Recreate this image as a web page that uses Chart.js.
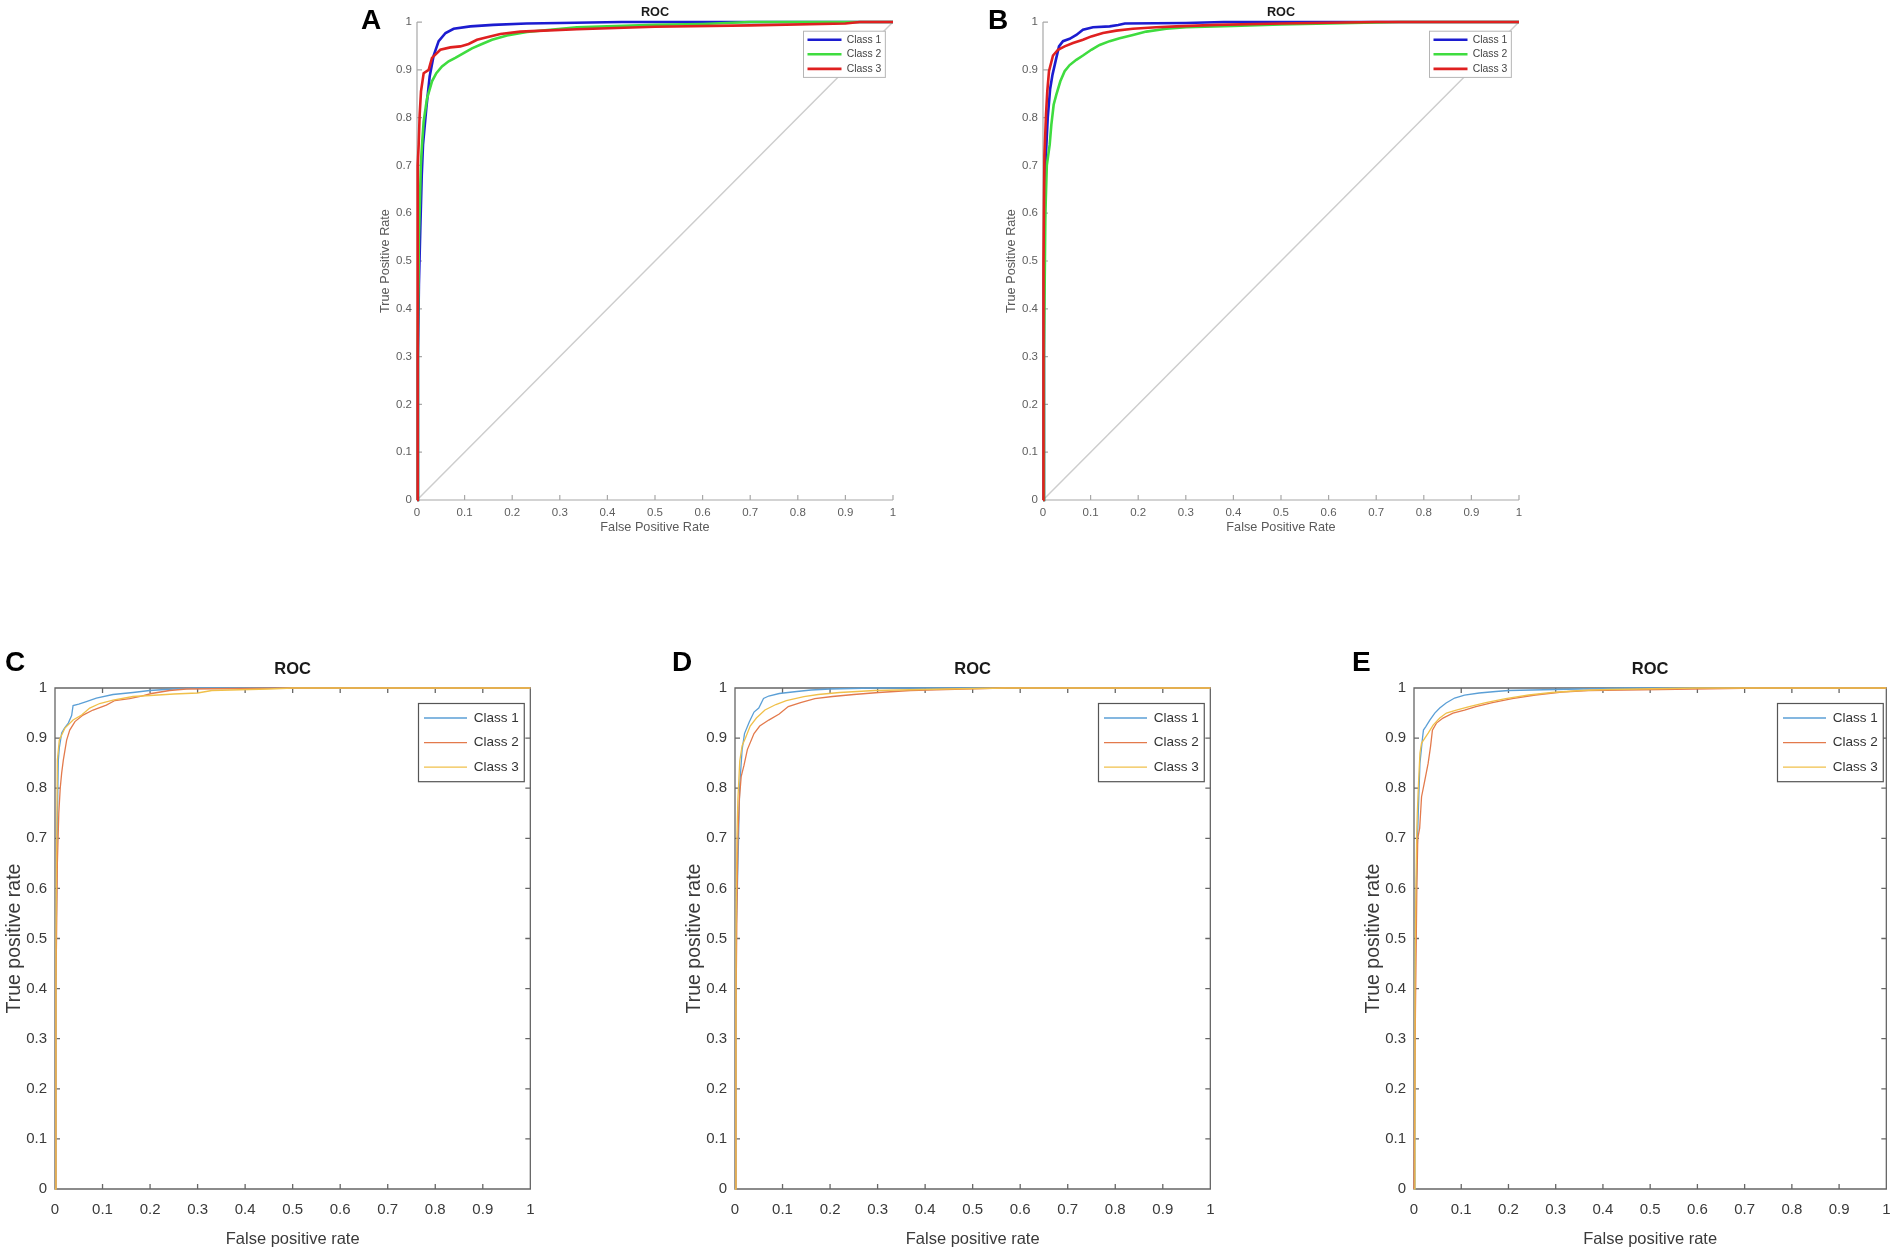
<!DOCTYPE html>
<html>
<head>
<meta charset="utf-8">
<title>ROC</title>
<script src="https://cdn.jsdelivr.net/npm/chart.js@4.4.1/dist/chart.umd.min.js"></script>
<style>
  html, body { margin: 0; padding: 0; background: #fff; }
  body { width: 1902px; height: 1257px; position: relative; overflow: hidden; }
  canvas { position: absolute; }
  .tag { position: absolute; font: bold 28px/28px "Liberation Sans", Arial, sans-serif; color: #000; z-index: 2; }
</style>
</head>
<body>
<div class="tag" style="left:361px;top:6px">A</div>
<div class="tag" style="left:988px;top:6px">B</div>
<div class="tag" style="left:5px;top:648px">C</div>
<div class="tag" style="left:672px;top:648px">D</div>
<div class="tag" style="left:1352px;top:648px">E</div>

<canvas id="rocA" width="545" height="545" style="left:360px;top:0px"></canvas>
<canvas id="rocB" width="545" height="545" style="left:986px;top:0px"></canvas>
<canvas id="rocC" width="546" height="607" style="left:0px;top:650px"></canvas>
<canvas id="rocD" width="546" height="607" style="left:680px;top:650px"></canvas>
<canvas id="rocE" width="543" height="607" style="left:1359px;top:650px"></canvas>

<script>
const FONT = '"Liberation Sans", Arial, Helvetica, sans-serif';

// tick labels shared by both axes of every panel
const TICK_LABELS = ["0", "0.1", "0.2", "0.3", "0.4", "0.5", "0.6", "0.7", "0.8", "0.9", "1"];
const CLASS_LABELS = ["Class 1", "Class 2", "Class 3"];
const CHANCE = [[0, 0], [1, 1]];

// ROC points as [false positive rate, true positive rate]
const A_CLASS1 = [[0,0],[0.002,0.3],[0.004,0.45],[0.007,0.57],[0.01,0.68],[0.0126,0.743],[0.0196,0.82],[0.0266,0.886],[0.035,0.93],[0.0455,0.96],[0.06,0.977],[0.077,0.986],[0.112,0.991],[0.16,0.994],[0.23,0.997],[0.3,0.998],[0.43,1],[1,1]];
const A_CLASS2 = [[0,0],[0.002,0.35],[0.004,0.55],[0.006,0.62],[0.008,0.7],[0.0105,0.743],[0.014,0.792],[0.021,0.84],[0.0315,0.876],[0.0406,0.893],[0.0525,0.907],[0.0665,0.918],[0.0805,0.925],[0.098,0.935],[0.1155,0.945],[0.1365,0.954],[0.1576,0.963],[0.189,0.972],[0.231,0.979],[0.28,0.984],[0.336,0.989],[0.4,0.991],[0.5,0.994],[0.6,0.996],[0.7,1],[1,1]];
const A_CLASS3 = [[0,0],[0.001,0.5],[0.002,0.7],[0.0035,0.743],[0.0056,0.806],[0.0084,0.855],[0.014,0.893],[0.0245,0.9],[0.0315,0.925],[0.049,0.942],[0.07,0.947],[0.091,0.949],[0.1085,0.954],[0.126,0.963],[0.147,0.968],[0.175,0.975],[0.217,0.98],[0.266,0.982],[0.336,0.985],[0.5,0.99],[0.7,0.993],[0.9,0.997],[0.93,1],[1,1]];

const B_CLASS1 = [[0,0],[0.002,0.45],[0.005,0.7],[0.01,0.8],[0.015,0.86],[0.02,0.89],[0.028,0.925],[0.0336,0.949],[0.042,0.96],[0.056,0.965],[0.07,0.973],[0.084,0.984],[0.105,0.989],[0.14,0.991],[0.158,0.994],[0.172,0.997],[0.3,0.998],[0.38,1],[1,1]];
const B_CLASS2 = [[0,0],[0.002,0.3],[0.005,0.6],[0.008,0.7],[0.014,0.743],[0.0175,0.785],[0.0224,0.827],[0.028,0.848],[0.0364,0.876],[0.0455,0.897],[0.056,0.91],[0.07,0.921],[0.084,0.93],[0.1015,0.942],[0.119,0.952],[0.14,0.96],[0.161,0.966],[0.189,0.973],[0.217,0.98],[0.259,0.986],[0.301,0.989],[0.4,0.992],[0.5,0.995],[0.75,1],[1,1]];
const B_CLASS3 = [[0,0],[0.001,0.5],[0.003,0.72],[0.0063,0.806],[0.009,0.855],[0.0126,0.897],[0.021,0.93],[0.0315,0.942],[0.0455,0.949],[0.063,0.956],[0.084,0.963],[0.1015,0.97],[0.126,0.977],[0.154,0.982],[0.189,0.986],[0.238,0.989],[0.28,0.991],[0.364,0.994],[0.5,0.997],[0.7,1],[1,1]];

const C_CLASS1 = [[0,0],[0.002,0.45],[0.004,0.65],[0.006,0.8],[0.007,0.856],[0.009,0.88],[0.014,0.91],[0.02,0.92],[0.028,0.93],[0.035,0.945],[0.038,0.965],[0.05,0.968],[0.066,0.973],[0.087,0.98],[0.122,0.987],[0.164,0.991],[0.199,0.995],[0.248,0.998],[0.3,1],[1,1]];
const C_CLASS2 = [[0,0],[0.002,0.4],[0.005,0.65],[0.008,0.75],[0.011,0.8],[0.014,0.83],[0.0175,0.856],[0.021,0.876],[0.0245,0.896],[0.031,0.916],[0.042,0.933],[0.059,0.946],[0.08,0.956],[0.108,0.966],[0.126,0.975],[0.157,0.979],[0.182,0.984],[0.203,0.989],[0.241,0.995],[0.276,0.998],[0.4,0.999],[0.5,1],[1,1]];
const C_CLASS3 = [[0,0],[0.002,0.5],[0.004,0.75],[0.005,0.856],[0.009,0.896],[0.021,0.92],[0.038,0.936],[0.056,0.946],[0.073,0.96],[0.094,0.969],[0.122,0.976],[0.164,0.983],[0.2,0.985],[0.25,0.988],[0.3,0.99],[0.33,0.995],[0.45,0.998],[0.5,1],[1,1]];

const D_CLASS1 = [[0,0],[0.002,0.5],[0.005,0.6],[0.0075,0.7],[0.01,0.807],[0.015,0.877],[0.02,0.909],[0.03,0.932],[0.04,0.952],[0.05,0.96],[0.06,0.979],[0.071,0.984],[0.093,0.989],[0.13,0.993],[0.16,0.996],[0.2,0.998],[0.29,1],[1,1]];
const D_CLASS2 = [[0,0],[0.002,0.35],[0.004,0.55],[0.006,0.7],[0.009,0.776],[0.013,0.823],[0.019,0.846],[0.026,0.877],[0.04,0.909],[0.052,0.924],[0.071,0.936],[0.093,0.948],[0.112,0.963],[0.138,0.971],[0.168,0.979],[0.205,0.983],[0.25,0.987],[0.302,0.991],[0.369,0.995],[0.443,0.997],[0.563,1],[1,1]];
const D_CLASS3 = [[0,0],[0.002,0.5],[0.004,0.7],[0.006,0.776],[0.01,0.854],[0.015,0.885],[0.022,0.9],[0.032,0.924],[0.045,0.94],[0.063,0.956],[0.086,0.967],[0.108,0.975],[0.145,0.983],[0.175,0.987],[0.22,0.991],[0.294,0.995],[0.443,0.998],[0.57,1],[1,1]];

const E_CLASS1 = [[0,0],[0.002,0.4],[0.004,0.55],[0.006,0.65],[0.009,0.75],[0.0126,0.85],[0.018,0.9],[0.02,0.916],[0.025,0.923],[0.0335,0.936],[0.044,0.95],[0.0545,0.96],[0.068,0.97],[0.086,0.98],[0.107,0.986],[0.138,0.99],[0.173,0.993],[0.2,0.995],[0.3,0.997],[0.45,1],[1,1]];
const E_CLASS2 = [[0,0],[0.003,0.35],[0.006,0.6],[0.008,0.7],[0.012,0.72],[0.016,0.783],[0.023,0.816],[0.03,0.85],[0.035,0.883],[0.039,0.916],[0.0475,0.93],[0.0615,0.94],[0.0825,0.95],[0.107,0.956],[0.131,0.963],[0.166,0.971],[0.208,0.979],[0.257,0.986],[0.313,0.992],[0.369,0.995],[0.52,0.997],[0.73,1],[1,1]];
const E_CLASS3 = [[0,0],[0.002,0.4],[0.004,0.6],[0.006,0.72],[0.007,0.75],[0.0098,0.816],[0.0126,0.87],[0.016,0.89],[0.023,0.9],[0.03,0.91],[0.0405,0.926],[0.0545,0.94],[0.0685,0.95],[0.0895,0.956],[0.117,0.963],[0.152,0.971],[0.194,0.979],[0.243,0.986],[0.292,0.991],[0.355,0.995],[0.411,0.997],[0.6,1],[1,1]];

// look of the two figure styles (top row: thick RGB lines, bottom row: thin default palette)
const LOOK_TOP = {
  colors: ["#1c1cd0", "#3fdc3f", "#df2020"], lineWidth: 2.6, chance: true,
  tickSize: 11.5, tickColor: "#5e5e5e", xTickPad: 5.5, yTickPad: 5,
  labelSize: 12.7, yLabelSize: 12.7, labelColor: "#5a5a5a", xTitle: "False Positive Rate", yTitle: "True Positive Rate",
  xTitlePad: 9.4, yTitlePad: 17.4,
  titleSize: 12.7, titlePad: { top: 4.4, bottom: 2.4 },
  xAxisH: 45, yAxisW: 57, padRight: 12,
  axisColor: "#a8a8a8", axisWidth: 1.2, box: false, tickLen: 5,
  legendSize: 10.4, legendGap: 4.2, legendSample: 34, legendColor: "#444",
  legendX: 447.5, legendY: 39.7, framePadX: 4, framePadY: 3.3, frameColor: "#b5b5b5", frameWidth: 1
};
const LOOK_BOTTOM = {
  colors: ["#5b9fd6", "#e37a4c", "#f0c04a"], lineWidth: 1.3, chance: false,
  tickSize: 15, tickColor: "#3a3a3a", xTickPad: 11.5, yTickPad: 8,
  labelSize: 16.5, yLabelSize: 19.5, labelColor: "#3a3a3a", xTitle: "False positive rate", yTitle: "True positive rate",
  xTitlePad: 8.1, yTitlePad: 3.3,
  titleSize: 16.5, titlePad: { top: 9.1, bottom: 9.1 },
  xAxisH: 68, yAxisW: 55, padRight: 14,
  axisColor: "#666", axisWidth: 1.3, box: true, tickLen: 5,
  legendSize: 13.5, legendGap: 11.1, legendSample: 43, legendColor: "#333",
  legendX: 424, legendY: 68, framePadX: 5.5, framePadY: 7.75, frameColor: "#555", frameWidth: 1.2
};

// axis lines / frame with inward ticks, MATLAB style
const axesBox = {
  id: "axesBox",
  beforeDatasetsDraw(chart, args, opts) {
    const { ctx, chartArea: a, scales: { x, y } } = chart;
    const L = opts.tickLen;
    ctx.save();
    ctx.strokeStyle = opts.color;
    ctx.lineWidth = opts.width;
    ctx.beginPath();
    if (opts.box) {
      ctx.rect(a.left, a.top, a.right - a.left, a.bottom - a.top);
    } else {
      ctx.moveTo(a.left, a.top);
      ctx.lineTo(a.left, a.bottom);
      ctx.lineTo(a.right, a.bottom);
    }
    x.ticks.forEach(t => {
      const px = x.getPixelForValue(t.value);
      ctx.moveTo(px, a.bottom); ctx.lineTo(px, a.bottom - L);
      if (opts.box) { ctx.moveTo(px, a.top); ctx.lineTo(px, a.top + L); }
    });
    y.ticks.forEach(t => {
      const py = y.getPixelForValue(t.value);
      ctx.moveTo(a.left, py); ctx.lineTo(a.left + L, py);
      if (opts.box) { ctx.moveTo(a.right, py); ctx.lineTo(a.right - L, py); }
    });
    ctx.stroke();
    ctx.restore();
  }
};

// put the legend inside the plot at the top right, on a white framed box
const legendFrame = {
  id: "legendFrame",
  afterLayout(chart, args, opts) {
    const lg = chart.legend;
    if (!lg) return;
    lg.left = opts.x - opts.gap;
    lg.top = opts.y - opts.size / 2 - opts.gap;
    lg.right = chart.chartArea.right;
    lg.bottom = chart.chartArea.bottom;
    lg.width = lg.right - lg.left;
    lg.height = lg.bottom - lg.top;
  },
  afterDatasetsDraw(chart, args, opts) {
    const lg = chart.legend;
    const boxes = lg && lg.legendHitBoxes;
    if (!boxes || !boxes.length) return;
    let l = Infinity, t = Infinity, r = -Infinity, b = -Infinity;
    boxes.forEach(h => {
      l = Math.min(l, h.left); t = Math.min(t, h.top);
      r = Math.max(r, h.left + h.width); b = Math.max(b, h.top + h.height);
    });
    const { ctx } = chart;
    const fx = l - opts.padX, fy = t - opts.padY;
    const fw = r - l + 2 * opts.padX, fh = b - t + 2 * opts.padY;
    ctx.save();
    ctx.fillStyle = "#fff";
    ctx.fillRect(fx, fy, fw, fh);
    ctx.strokeStyle = opts.color;
    ctx.lineWidth = opts.width;
    ctx.strokeRect(fx, fy, fw, fh);
    ctx.restore();
    lg.draw();
  }
};

function rocChart(id, curves, look) {
  const datasets = curves.map((pts, i) => ({
    label: CLASS_LABELS[i],
    data: pts.map(([x, y]) => ({ x, y })),
    showLine: true,
    borderColor: look.colors[i],
    backgroundColor: look.colors[i],
    pointBorderColor: look.colors[i],
    pointBorderWidth: look.lineWidth,
    borderWidth: look.lineWidth,
    pointRadius: 0,
    pointHoverRadius: 0,
    tension: 0,
    clip: 4,
    order: 3 - i
  }));
  if (look.chance) {
    datasets.push({
      label: "",
      data: CHANCE.map(([x, y]) => ({ x, y })),
      showLine: true,
      borderColor: "#cdcdcd",
      pointBorderColor: "#cdcdcd",
      borderWidth: 1.5,
      pointRadius: 0,
      order: 9
    });
  }

  const tickOpts = (pad) => ({
    stepSize: 0.1,
    autoSkip: false,
    maxRotation: 0,
    padding: pad,
    color: look.tickColor,
    font: { family: FONT, size: look.tickSize },
    callback: (v, i) => TICK_LABELS[i]
  });

  return new Chart(document.getElementById(id), {
    type: "scatter",
    data: { datasets },
    plugins: [axesBox, legendFrame],
    options: {
      responsive: false,
      animation: false,
      events: [],
      layout: { padding: { left: 0, top: 0, right: look.padRight, bottom: 0 } },
      scales: {
        x: {
          type: "linear", min: 0, max: 1,
          grid: { display: false, drawTicks: false },
          border: { display: false },
          ticks: tickOpts(look.xTickPad),
          title: {
            display: true, text: look.xTitle, color: look.labelColor,
            font: { family: FONT, size: look.labelSize },
            padding: { top: 0, bottom: look.xTitlePad }
          },
          afterFit: s => { s.height = look.xAxisH; }
        },
        y: {
          type: "linear", min: 0, max: 1,
          grid: { display: false, drawTicks: false },
          border: { display: false },
          ticks: tickOpts(look.yTickPad),
          title: {
            display: true, text: look.yTitle, color: look.labelColor,
            font: { family: FONT, size: look.yLabelSize },
            padding: { top: look.yTitlePad, bottom: 0 }
          },
          afterFit: s => { s.width = look.yAxisW; }
        }
      },
      plugins: {
        title: {
          display: true, text: "ROC", fullSize: false,
          color: "#1a1a1a",
          font: { family: FONT, size: look.titleSize, weight: "bold" },
          padding: look.titlePad
        },
        legend: {
          position: "chartArea",
          align: "start",
          labels: {
            usePointStyle: true,
            pointStyle: "line",
            pointStyleWidth: look.legendSample,
            padding: look.legendGap,
            color: look.legendColor,
            font: { family: FONT, size: look.legendSize },
            filter: item => item.text !== "",
            sort: (a, b) => a.datasetIndex - b.datasetIndex
          }
        },
        tooltip: { enabled: false },
        axesBox: { color: look.axisColor, width: look.axisWidth, box: look.box, tickLen: look.tickLen },
        legendFrame: {
          x: look.legendX, y: look.legendY, size: look.legendSize, gap: look.legendGap,
          padX: look.framePadX, padY: look.framePadY, color: look.frameColor, width: look.frameWidth
        }
      }
    }
  });
}

rocChart("rocA", [A_CLASS1, A_CLASS2, A_CLASS3], LOOK_TOP);
rocChart("rocB", [B_CLASS1, B_CLASS2, B_CLASS3], LOOK_TOP);
rocChart("rocC", [C_CLASS1, C_CLASS2, C_CLASS3], LOOK_BOTTOM);
rocChart("rocD", [D_CLASS1, D_CLASS2, D_CLASS3], LOOK_BOTTOM);
rocChart("rocE", [E_CLASS1, E_CLASS2, E_CLASS3], Object.assign({}, LOOK_BOTTOM, { padRight: 11 }));
</script>
</body>
</html>
